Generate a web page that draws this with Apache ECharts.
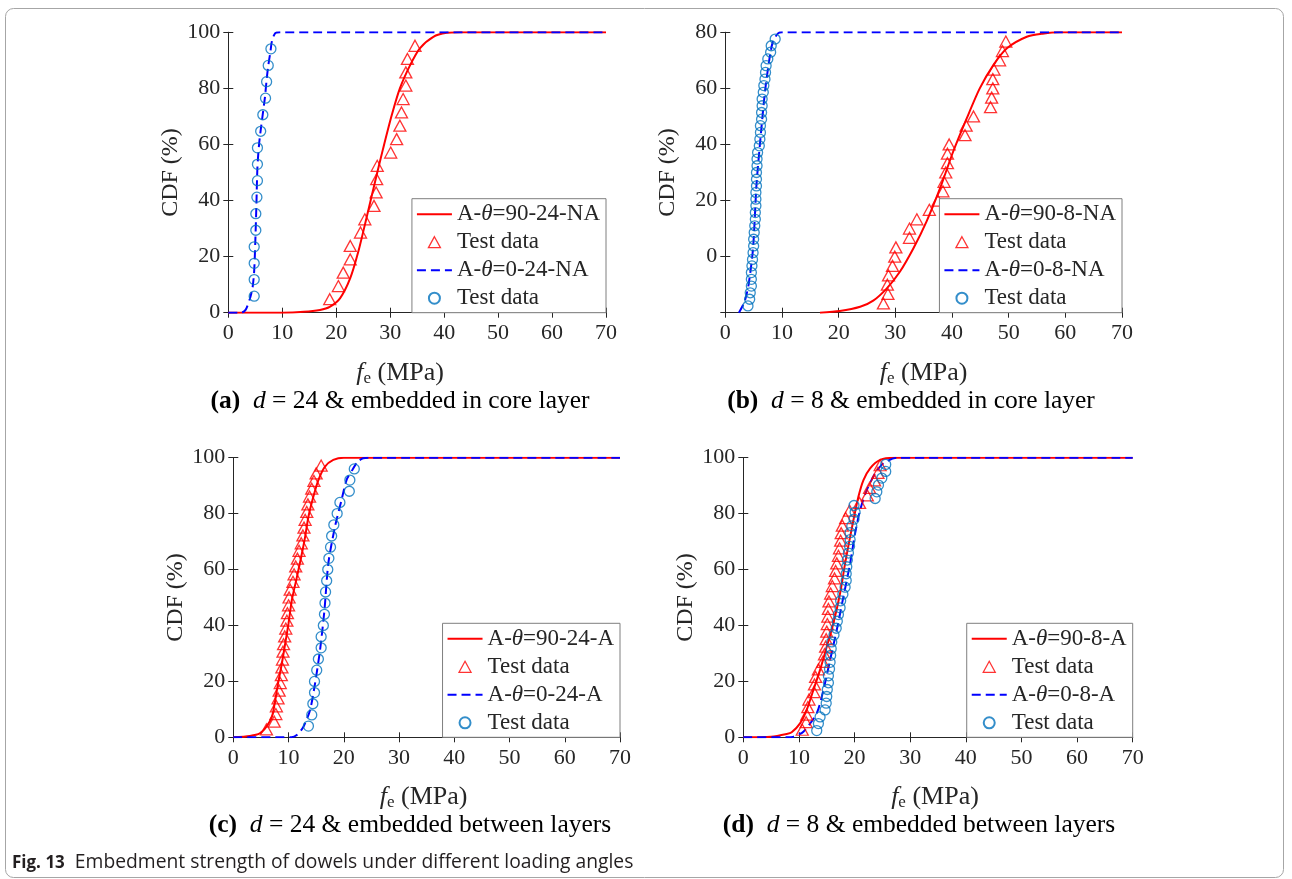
<!DOCTYPE html>
<html>
<head>
<meta charset="utf-8">
<script src="https://cdn.jsdelivr.net/npm/echarts@6/dist/echarts.min.js"></script>
<style>
  html, body { margin: 0; padding: 0; background: #fff; }
  #chart { width: 1292px; height: 879px; }
</style>
</head>
<body>
<div id="chart"></div>
<script>
// ---- axis ticks ----
const xTicks = [0, 10, 20, 30, 40, 50, 60, 70];
const yTicks = ['0', '20', '40', '60', '80', '100'];
const yTicksB = ['', '0', '20', '40', '60', '80'];

// ---- (a) d = 24, core layer ----
const fitA90 = [[0,0],[10,0],[14,0.3],[17,1.0],[18.8,2.1],[20.7,5.1],[22.6,12.3],[24.1,21.8],[25.6,33.7],[27.2,46.7],[28.7,58.6],[30.3,70.5],[31.8,80.0],[33.7,88.3],[35.5,94.3],[38.0,98.4],[40.5,99.8],[43,100],[70,100]];
const testA90 = [[18.8,4.8],[20.4,9.5],[21.3,14.3],[22.6,19.0],[22.6,23.8],[24.5,28.6],[25.3,33.3],[27.0,38.1],[27.4,42.9],[27.5,47.6],[27.6,52.4],[30.1,57.1],[31.2,61.9],[31.8,66.7],[32.1,71.4],[32.4,76.2],[32.9,81.0],[32.9,85.7],[33.2,90.5],[34.6,95.2]];
const fitA0 = [[0,0],[2.4,0],[3.2,1],[4.0,5],[4.5,9],[4.8,15],[5.0,25],[5.2,38],[5.4,52],[5.7,60],[6.0,65],[6.4,71],[6.8,77],[7.1,83],[7.4,88],[7.8,93],[8.1,97],[8.7,99.7],[9.5,100],[70,100]];
const testA0 = [[4.8,5.9],[4.8,11.8],[4.8,17.6],[4.8,23.5],[5.1,29.4],[5.1,35.3],[5.3,41.2],[5.4,47.1],[5.4,52.9],[5.4,58.8],[6.0,64.7],[6.4,70.6],[6.9,76.5],[7.1,82.4],[7.4,88.2],[7.9,94.1]];

// ---- (b) d = 8, core layer ----
const fitB90 = [[16.7,0],[20.2,0.6],[23.8,2.1],[26.1,4.3],[28.5,8.7],[30.8,14.6],[33.2,23.0],[35.5,32.5],[37.9,44.4],[40.2,57.4],[42.6,69.3],[44.9,80.0],[47.3,88.3],[49.7,94.3],[53.2,98.4],[56,99.5],[59,100],[70,100]];
const testB90 = [[27.9,3.3],[28.7,6.7],[28.6,10.0],[28.8,13.3],[29.5,16.7],[29.9,20.0],[30.1,23.3],[32.5,26.7],[32.5,30.0],[33.8,33.3],[36.0,36.7],[37.5,40.0],[38.4,43.3],[38.6,46.7],[38.9,50.0],[39.2,53.3],[39.2,56.7],[39.5,60.0],[42.3,63.3],[42.5,66.7],[43.8,70.0],[46.8,73.3],[47.0,76.7],[47.2,80.0],[47.2,83.3],[47.4,86.7],[48.4,90.0],[48.9,93.3],[49.5,96.7]];
const fitB0 = [[2.4,0],[3.4,3.9],[4.1,9.9],[4.9,23],[5.5,45.5],[6.1,59.8],[7.0,78.8],[7.8,90.7],[8.4,96.7],[9.3,99.6],[10,100],[70,100]];
const testB0 = [[4.0,2.4],[4.3,4.8],[4.4,7.1],[4.6,9.5],[4.6,11.9],[4.6,14.3],[4.7,16.7],[4.8,19.0],[4.9,21.4],[5.0,23.8],[5.0,26.2],[5.1,28.6],[5.2,31.0],[5.3,33.3],[5.3,35.7],[5.4,38.1],[5.4,40.5],[5.4,42.9],[5.5,45.2],[5.5,47.6],[5.5,50.0],[5.6,52.4],[5.6,54.8],[5.7,57.1],[6.0,59.5],[6.1,61.9],[6.2,64.3],[6.2,66.7],[6.4,69.0],[6.4,71.4],[6.5,73.8],[6.5,76.2],[6.7,78.6],[6.8,81.0],[7.0,83.3],[7.1,85.7],[7.2,88.1],[7.5,90.5],[8.0,92.9],[8.1,95.2],[8.8,97.6]];

// ---- (c) d = 24, between layers ----
const fitC90 = [[0,0],[3.0,0.5],[4.8,1.4],[6.0,3.8],[7.0,7.4],[7.5,12.2],[8.1,19.3],[8.8,26.5],[9.4,33.6],[10.0,40.8],[10.6,49.1],[11.4,56.3],[12.3,64.6],[13.0,71.7],[13.6,78.9],[14.5,86.1],[15.4,92.0],[16.6,96.8],[18.1,99.2],[20,100],[70,100]];
const testC90 = [[6.0,2.8],[7.4,5.6],[7.7,8.3],[7.8,11.1],[8.1,13.9],[8.3,16.7],[8.5,19.4],[8.7,22.2],[8.8,25.0],[8.9,27.8],[9.0,30.6],[9.1,33.3],[9.3,36.1],[9.5,38.9],[9.7,41.7],[9.8,44.4],[10.0,47.2],[10.1,50.0],[10.3,52.8],[10.8,55.6],[11.0,58.3],[11.3,61.1],[11.6,63.9],[11.9,66.7],[12.3,69.4],[12.6,72.2],[12.8,75.0],[13.0,77.8],[13.3,80.6],[13.5,83.3],[13.8,86.1],[14.2,88.9],[14.6,91.7],[15.0,94.4],[15.9,97.2]];
const fitC0 = [[0,0],[10.5,0],[11.5,0.8],[12.7,3.8],[13.9,9.8],[14.8,19.3],[15.7,31.2],[16.5,45.5],[17.2,62.2],[18.4,75.3],[19.6,84.9],[20.5,92.0],[21.5,95.5],[22.5,98.5],[23.5,99.8],[25,100],[70,100]];
const testC0 = [[13.6,4],[14.2,8],[14.4,12],[14.7,16],[14.7,20],[15.1,24],[15.4,28],[15.9,32],[15.9,36],[16.3,40],[16.5,44],[16.6,48],[16.7,52],[16.9,56],[17.1,60],[17.3,64],[17.6,68],[17.8,72],[18.2,76],[18.8,80],[19.3,84],[21.0,88],[21.1,92],[21.9,96]];

// ---- (d) d = 8, between layers ----
const fitD90 = [[0,0],[5,0.2],[7.8,1.2],[8.7,1.8],[10.2,5.0],[11.4,9.8],[12.6,16.9],[13.8,24.1],[15.0,32.4],[16.2,40.8],[17.4,51.5],[18.3,62.2],[19.1,70.6],[19.8,77.7],[20.7,86.1],[21.6,92.0],[22.8,96.2],[24.6,99.2],[27,100],[70,100]];
const testD90 = [[10.6,2.7],[11.3,5.4],[11.4,8.1],[11.6,10.8],[11.8,13.5],[12.7,16.2],[12.8,18.9],[13.0,21.6],[13.5,24.3],[14.3,27.0],[14.6,29.7],[14.8,32.4],[14.9,35.1],[15.0,37.8],[15.1,40.5],[15.2,43.2],[15.3,45.9],[15.4,48.6],[15.7,51.4],[16.0,54.1],[16.4,56.8],[16.6,59.5],[16.8,62.2],[17.1,64.9],[17.3,67.6],[17.5,70.3],[17.6,73.0],[17.8,75.7],[18.4,78.4],[19.1,81.1],[20.9,83.8],[22.3,86.5],[22.7,89.2],[23.6,91.9],[24.2,94.6],[24.6,97.3]];
const fitD0 = [[0,0],[8,0],[9,0.2],[10.8,2.0],[13.2,8.6],[14.4,16.9],[15.6,27.6],[16.8,38.4],[18.0,50.3],[19.2,62.2],[20.1,73.0],[21.0,81.3],[22.2,88.4],[23.7,94.4],[25.2,98.0],[27.6,100],[70,100]];
const testD0 = [[13.2,2.4],[13.5,4.9],[13.8,7.3],[14.7,9.8],[14.9,12.2],[15.0,14.6],[15.1,17.1],[15.3,19.5],[15.3,22.0],[15.5,24.4],[15.6,26.8],[15.7,29.3],[15.8,31.7],[15.9,34.1],[16.3,36.6],[16.7,39.0],[16.9,41.5],[17.1,43.9],[17.4,46.3],[17.5,48.8],[17.9,51.2],[18.3,53.7],[18.5,56.1],[18.5,58.5],[18.6,61.0],[18.7,63.4],[18.9,65.9],[19.1,68.3],[19.2,70.7],[19.2,73.2],[19.5,75.6],[19.9,78.0],[20.1,80.5],[19.9,82.9],[23.7,85.4],[24.0,87.8],[24.3,90.2],[24.9,92.7],[25.6,95.1],[25.6,97.6]];

// ---- texts ----
const legendA = ['A-{i|θ}=90-24-NA', 'Test data', 'A-{i|θ}=0-24-NA', 'Test data'];
const legendB = ['A-{i|θ}=90-8-NA', 'Test data', 'A-{i|θ}=0-8-NA', 'Test data'];
const legendC = ['A-{i|θ}=90-24-A', 'Test data', 'A-{i|θ}=0-24-A', 'Test data'];
const legendD = ['A-{i|θ}=90-8-A', 'Test data', 'A-{i|θ}=0-8-A', 'Test data'];
const captionTags = ['(a)', '(b)', '(c)', '(d)'];
const captionD = ['24', '8', '24', '8'];
const captionPlace = ['embedded in core layer', 'embedded in core layer', 'embedded between layers', 'embedded between layers'];
const yAxisName = 'CDF (%)';
const figLabel = 'Fig. 13';
const figTitle = 'Embedment strength of dowels under different loading angles';

// ---- layout ----
const W = 1292, H = 879;
const SERIF = '"Liberation Serif", "Times New Roman", serif';
const SANS = '"Open Sans", "Noto Sans", sans-serif';
const INK = '#262626';
const RED = '#ff0000';
const BLUE = '#0000ff';
const MARKER_BLUE = '#0072bd';
const HIDDEN = { opacity: 0, color: 'rgba(0,0,0,0)', borderColor: 'rgba(0,0,0,0)', borderWidth: 0 };
// small upward triangle centred in the 35 x 11 legend icon box
const TRI_ICON = 'path://M0,5.5L0,5.5M35,5.5L35,5.5M17.5,0L23.5,11L11.5,11Z';

const grids = [
  { left: 228.3, top: 32.3, width: 377.7, height: 280.4, xNameShift: 34, capX: 400, capY: 401 },
  { left: 725.3, top: 32.3, width: 396.7, height: 280.4, xNameShift: 0, capX: 911, capY: 401 },
  { left: 233.3, top: 457.7, width: 386.7, height: 279.6, xNameShift: 6, capX: 410, capY: 825 },
  { left: 743.3, top: 457.7, width: 389.4, height: 279.6, xNameShift: 6, capX: 919, capY: 825 }
];

const panels = [
  { fit90: fitA90, test90: testA90, fit0: fitA0, test0: testA0, legend: legendA, yLabels: yTicks },
  { fit90: fitB90, test90: testB90, fit0: fitB0, test0: testB0, legend: legendB, yLabels: yTicksB },
  { fit90: fitC90, test90: testC90, fit0: fitC0, test0: testC0, legend: legendC, yLabels: yTicks },
  { fit90: fitD90, test90: testD90, fit0: fitD0, test0: testD0, legend: legendD, yLabels: yTicks }
];

const tickStyle = { show: true, inside: true, length: 5, lineStyle: { color: INK, width: 1 } };
const lineAxis = { show: true, lineStyle: { color: INK, width: 1 } };

const xAxis = [], yAxis = [], series = [], legend = [], graphic = [];

grids.forEach((g, i) => {
  const p = panels[i];
  // bottom x axis with labels and name
  xAxis.push({
    type: 'value', gridIndex: i, position: 'bottom',
    min: xTicks[0], max: xTicks[xTicks.length - 1], interval: 10,
    axisLine: lineAxis, axisTick: tickStyle, splitLine: { show: false },
    axisLabel: { color: INK, fontFamily: SERIF, fontSize: 22, margin: 10 },
    name: '{f|f}{s|e}{n| (MPa)}', nameLocation: 'middle', nameGap: 46,
    nameTextStyle: {
      padding: [0, g.xNameShift, 0, 0],
      rich: {
        f: { fontFamily: SERIF, fontSize: 26, fontStyle: 'italic', color: INK, lineHeight: 28, verticalAlign: 'middle' },
        s: { fontFamily: SERIF, fontSize: 17, color: INK, lineHeight: 12, verticalAlign: 'bottom' },
        n: { fontFamily: SERIF, fontSize: 26, color: INK, lineHeight: 28, verticalAlign: 'middle' }
      }
    }
  });
  // left y axis
  yAxis.push({
    type: 'value', gridIndex: i, position: 'left',
    min: 0, max: 100, interval: 20,
    axisLine: lineAxis, axisTick: tickStyle, splitLine: { show: false },
    axisLabel: {
      color: INK, fontFamily: SERIF, fontSize: 22, margin: 8,
      formatter: v => p.yLabels[Math.round(v / 20)]
    },
    name: yAxisName, nameLocation: 'middle', nameGap: 46, nameRotate: 90,
    nameTextStyle: { color: INK, fontFamily: SERIF, fontSize: 24 }
  });
});
// mirrored top/right axes closing the box
grids.forEach((g, i) => {
  xAxis.push({
    type: 'value', gridIndex: i, position: 'top',
    min: 0, max: 70, interval: 10,
    axisLine: lineAxis, axisTick: tickStyle, axisLabel: { show: false }, splitLine: { show: false }
  });
  yAxis.push({
    type: 'value', gridIndex: i, position: 'right',
    min: 0, max: 100, interval: 20,
    axisLine: lineAxis, axisTick: tickStyle, axisLabel: { show: false }, splitLine: { show: false }
  });
});

grids.forEach((g, i) => {
  const p = panels[i];
  const ids = ['p' + i + 'fit90', 'p' + i + 'test90', 'p' + i + 'fit0', 'p' + i + 'test0'];
  const names = {};
  ids.forEach((id, k) => { names[id] = p.legend[k]; });

  series.push({
    id: ids[0], name: ids[0], type: 'line', xAxisIndex: i, yAxisIndex: i,
    data: p.fit90, smooth: 0.25, symbol: 'none',
    lineStyle: { color: RED, width: 2 }, itemStyle: { color: RED }, z: 3
  });
  series.push({
    id: ids[1], name: ids[1], type: 'scatter', xAxisIndex: i, yAxisIndex: i,
    data: p.test90, symbol: 'triangle', symbolSize: [12, 11], symbolKeepAspect: true,
    itemStyle: { color: 'rgba(255,255,255,0)', borderColor: RED, borderWidth: 1.3 }, z: 4
  });
  series.push({
    id: ids[2], name: ids[2], type: 'line', xAxisIndex: i, yAxisIndex: i,
    data: p.fit0, smooth: 0.25, symbol: 'none',
    lineStyle: { color: BLUE, width: 2, type: [9, 5] }, itemStyle: { color: BLUE }, z: 3
  });
  series.push({
    id: ids[3], name: ids[3], type: 'scatter', xAxisIndex: i, yAxisIndex: i,
    data: p.test0, symbol: 'circle', symbolSize: 10,
    itemStyle: { color: 'rgba(255,255,255,0)', borderColor: MARKER_BLUE, borderWidth: 1.3 }, z: 4
  });

  legend.push({
    orient: 'vertical', selectedMode: false,
    right: W - (g.left + g.width), bottom: H - (g.top + g.height),
    itemWidth: 35, itemHeight: 11, itemGap: 5,
    padding: [4, 6, 3, 4],
    backgroundColor: '#ffffff', borderColor: '#7f7f7f', borderWidth: 1,
    data: [
      { name: ids[0], itemStyle: HIDDEN },
      { name: ids[1], icon: TRI_ICON, symbolKeepAspect: false,
        itemStyle: { color: 'rgba(255,255,255,0)', borderColor: RED, borderWidth: 1.3 } },
      { name: ids[2], itemStyle: HIDDEN },
      { name: ids[3] }
    ],
    formatter: id => names[id],
    textStyle: {
      color: INK, fontFamily: SERIF, fontSize: 23, lineHeight: 22,
      rich: { i: { fontFamily: SERIF, fontSize: 23, fontStyle: 'italic', color: INK, lineHeight: 22 } }
    },
    z: 10
  });

  graphic.push({
    type: 'text', x: g.capX, y: g.capY, z: 10,
    style: {
      text: '{b|' + captionTags[i] + '}{n|  }{i|d}{n| = ' + captionD[i] + ' & ' + captionPlace[i] + '}',
      align: 'center', verticalAlign: 'middle',
      rich: {
        b: { fontFamily: SERIF, fontSize: 25.5, fontWeight: 'bold', fill: '#000' },
        i: { fontFamily: SERIF, fontSize: 25.5, fontStyle: 'italic', fill: '#000' },
        n: { fontFamily: SERIF, fontSize: 25.5, fill: '#000' }
      }
    }
  });
});

// figure frame and caption
graphic.push({
  type: 'rect', z: 0, silent: true,
  shape: { x: 5.5, y: 8.5, width: 1278, height: 869, r: 8 },
  style: { fill: 'none', stroke: '#a6a6a6', lineWidth: 1 }
});
graphic.push({
  type: 'text', x: 12, y: 863, z: 10,
  style: {
    text: '{b|' + figLabel + '}{n|  ' + figTitle + '}',
    verticalAlign: 'middle',
    rich: {
      b: { fontFamily: SANS, fontSize: 17, fontWeight: 'bold', fill: '#231f20' },
      n: { fontFamily: SANS, fontSize: 19.3, fill: '#231f20' }
    }
  }
});

const chart = echarts.init(document.getElementById('chart'), null, { renderer: 'canvas' });
chart.setOption({
  backgroundColor: '#ffffff',
  animation: false,
  grid: grids.map(g => ({ left: g.left, top: g.top, width: g.width, height: g.height, containLabel: false })),
  xAxis, yAxis, series, legend, graphic
});
</script>
</body>
</html>
